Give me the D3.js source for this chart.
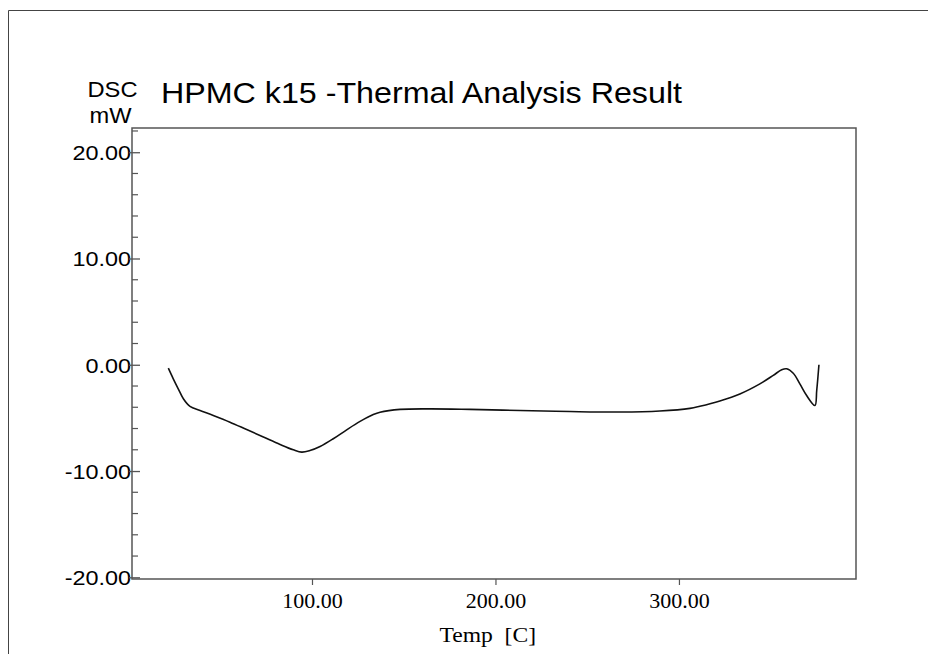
<!DOCTYPE html>
<html>
<head>
<meta charset="utf-8">
<script src="https://cdn.jsdelivr.net/npm/d3@7"></script>
<style>
  html, body { margin: 0; padding: 0; background: #fff; }
  svg { display: block; }
</style>
</head>
<body>
<svg id="chart" width="928" height="654"></svg>
<script>
// ---- data ----
const temps = [21.7, 24.4, 27.1, 29.9, 33.5, 39.0, 46.2, 55.3, 64.4, 73.5, 82.6, 89.8, 94.4, 98.9,
  104.4, 111.6, 118.9, 126.2, 133.4, 137.1, 148.0, 164.3, 186.1, 213.4, 240.6, 267.8, 289.6, 306.0,
  311.4, 322.3, 333.2, 344.1, 351.4, 356.0, 358.7, 362.3, 365.9, 369.6, 374.1, 375.1, 376.3];
const dsc = [-0.32, -1.32, -2.26, -3.20, -3.92, -4.30, -4.77, -5.40, -6.10, -6.80, -7.50, -8.00, -8.22, -8.07,
  -7.69, -6.96, -6.12, -5.33, -4.68, -4.46, -4.20, -4.15, -4.20, -4.30, -4.40, -4.45, -4.35, -4.10,
  -3.90, -3.40, -2.75, -1.80, -1.00, -0.47, -0.38, -0.80, -1.80, -2.90, -3.83, -2.40, 0.00];
const xTicks = [100, 200, 300];
const yTicks = [-20, -10, 0, 10, 20];
const yMinorTicks = [-18, -16, -14, -12, -8, -6, -4, -2, 2, 4, 6, 8, 12, 14, 16, 18, 22];
const titleText = "HPMC k15 -Thermal Analysis Result";
const yLabel = ["DSC", "mW"];
const xLabel = "Temp  [C]";

// ---- layout ----
const svg = d3.select("#chart");
const L = 132, R = 856, T = 128, B = 579;

const x = d3.scaleLinear().domain([1.9, 396.5]).range([L, R]);
const y = d3.scaleLinear().domain([-20.16, 22.28]).range([B, T]);

const axisColor = "#555";
const fmt = d => d.toFixed(2);

// outer frame (left and top only visible)
svg.append("path")
  .attr("d", "M8.5,654 L8.5,10.5 L928,10.5")
  .attr("fill", "none").attr("stroke", "#444").attr("stroke-width", 1);

function fit(sel, width) {
  sel.each(function () {
    this.setAttribute("textLength", width);
    this.setAttribute("lengthAdjust", "spacingAndGlyphs");
  });
}

// plot box
svg.append("rect")
  .attr("x", L).attr("y", T).attr("width", R - L).attr("height", B - T)
  .attr("fill", "none").attr("stroke", axisColor).attr("stroke-width", 1.5);

// y axis (major ticks)
const yAxis = d3.axisLeft(y).tickValues(yTicks).tickSize(0).tickPadding(0).tickFormat(fmt);
const gy = svg.append("g").attr("transform", `translate(${L},0)`).call(yAxis);
gy.select(".domain").remove();
gy.selectAll(".tick line").remove();
gy.selectAll(".tick").append("line")
  .attr("x1", -3).attr("x2", 8).attr("stroke", axisColor).attr("stroke-width", 1.3);
gy.selectAll(".tick text")
  .attr("x", -1).attr("dy", "0.37em")
  .attr("font-family", "Liberation Sans, Arial, sans-serif")
  .attr("font-size", 20).attr("fill", "#000")
  .each(function () {
    const w = this.getComputedTextLength();
    this.setAttribute("textLength", w * 1.17);
    this.setAttribute("lengthAdjust", "spacingAndGlyphs");
  });

// y minor ticks
svg.append("g").selectAll("line").data(yMinorTicks).join("line")
  .attr("x1", L).attr("x2", L + 6)
  .attr("y1", d => y(d)).attr("y2", d => y(d))
  .attr("stroke", axisColor).attr("stroke-width", 1.2);

// x axis
const xAxis = d3.axisBottom(x).tickValues(xTicks).tickSize(6).tickPadding(7).tickFormat(fmt);
const gx = svg.append("g").attr("transform", `translate(0,${B})`).call(xAxis);
gx.select(".domain").remove();
gx.selectAll(".tick line").attr("stroke", axisColor).attr("stroke-width", 1.2);
gx.selectAll(".tick text")
  .attr("font-family", "Liberation Serif, Times New Roman, serif")
  .attr("font-size", 22).attr("fill", "#000");

// curve
const line = d3.line()
  .x((d, i) => x(temps[i]))
  .y((d, i) => y(dsc[i]))
  .curve(d3.curveCatmullRom.alpha(0.5));
svg.append("path")
  .datum(dsc)
  .attr("d", line)
  .attr("fill", "none").attr("stroke", "#111").attr("stroke-width", 1.6)
  .attr("stroke-linejoin", "round");

// title
svg.append("text")
  .attr("x", 161).attr("y", 103)
  .attr("font-family", "Liberation Sans, Arial, sans-serif")
  .attr("font-size", 30).attr("fill", "#000")
  .text(titleText).call(fit, 521);

// y label
svg.append("text")
  .attr("x", 87.5).attr("y", 97)
  .attr("font-family", "Liberation Sans, Arial, sans-serif")
  .attr("font-size", 22.5).attr("fill", "#000")
  .text(yLabel[0]).call(fit, 50);
svg.append("text")
  .attr("x", 89.5).attr("y", 123)
  .attr("font-family", "Liberation Sans, Arial, sans-serif")
  .attr("font-size", 21.5).attr("fill", "#000")
  .text(yLabel[1]).call(fit, 42);

// x label
svg.append("text")
  .attr("x", 439.5).attr("y", 641.5)
  .attr("font-family", "Liberation Serif, Times New Roman, serif")
  .attr("font-size", 22).attr("fill", "#000")
  .attr("xml:space", "preserve")
  .style("white-space", "pre")
  .text(xLabel).call(fit, 96.5);
</script>
</body>
</html>
